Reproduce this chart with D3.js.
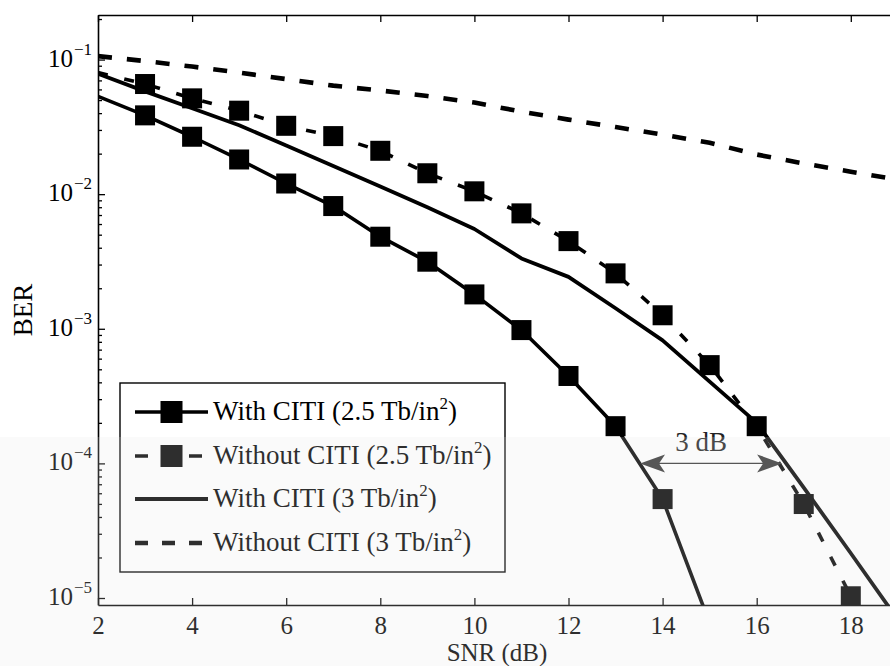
<!DOCTYPE html>
<html>
<head>
<meta charset="utf-8">
<script src="https://cdn.jsdelivr.net/npm/d3@7"></script>
<style>
  body { margin: 0; background: #fff; }
  svg { display: block; }
  svg text { font-family: "Times New Roman", "Liberation Serif", "Nimbus Roman", "DejaVu Serif", serif; }
</style>
</head>
<body>
<svg id="chart" width="890" height="666"></svg>
<script>
// BER vs SNR curves, with and without CITI, at two areal densities
const snrWithCiti25 = [2, 3, 4, 5, 6, 7, 8, 9, 10, 11, 12, 13, 14, 15];
const berWithCiti25 = [0.0533, 0.0385, 0.0267, 0.0181, 0.0120, 0.00816, 0.00483, 0.00315, 0.00180, 0.000978, 0.000446, 0.000189, 5.43e-5, 6.5e-6];

const snrWithoutCiti25 = [2, 3, 4, 5, 6, 7, 8, 9, 10, 11, 12, 13, 14, 15, 16, 17, 18];
const berWithoutCiti25 = [0.080, 0.0658, 0.0515, 0.0417, 0.0322, 0.0270, 0.0210, 0.0143, 0.0105, 0.0072, 0.00448, 0.00258, 0.00126, 0.000537, 0.000189, 4.99e-5, 1.03e-5];

const snrWithCiti3 = [2, 3, 4, 5, 6, 7, 8, 9, 10, 11, 12, 13, 14, 15, 16, 17, 18, 19];
const berWithCiti3 = [0.0785, 0.058, 0.0435, 0.0325, 0.023, 0.0162, 0.0114, 0.0080, 0.00551, 0.00333, 0.00243, 0.00142, 0.00082, 0.000405, 0.000200, 6.6e-5, 2.15e-5, 6.9e-6];

const snrWithoutCiti3 = [2, 3, 4, 5, 6, 7, 8, 9, 10, 11, 12, 13, 14, 15, 16, 17, 18, 19];
const berWithoutCiti3 = [0.106, 0.0975, 0.0887, 0.0800, 0.0716, 0.0640, 0.0589, 0.0536, 0.0479, 0.0410, 0.0358, 0.0315, 0.0277, 0.0241, 0.0197, 0.0169, 0.0147, 0.0128];

const legendLabels = ["With CITI (2.5 Tb/in", "Without CITI (2.5 Tb/in", "With CITI (3 Tb/in", "Without CITI (3 Tb/in"];
const xTicks = [2, 4, 6, 8, 10, 12, 14, 16, 18];
const yDecades = [-1, -2, -3, -4, -5];
const xLabel = "SNR (dB)";
const yLabel = "BER";

// 3 dB gap annotation at BER = 1e-4
const gapBer = 1e-4;
const gapFrom = 13.52;
const gapTo = 16.54;
const gapText = "3 dB";

const svg = d3.select("#chart");
const plot = { left: 98, top: 15, bottom: 605, right: 890 };
const serif = "'Times New Roman', 'Liberation Serif', 'Nimbus Roman', 'DejaVu Serif', serif";

const x = d3.scaleLinear().domain([2, 20]).range([plot.left, plot.left + 18 * 47.05]);
const y = d3.scaleLog().domain([Math.pow(10, -5.052), Math.pow(10, -0.669)]).range([plot.bottom, plot.top]);

svg.append("defs").append("clipPath").attr("id", "plotClip")
  .append("rect")
  .attr("x", plot.left).attr("y", plot.top)
  .attr("width", plot.right - plot.left).attr("height", plot.bottom - plot.top);

const series = [
  { snr: snrWithCiti25, ber: berWithCiti25, dash: null, width: 3.6, marker: "#000" },
  { snr: snrWithoutCiti25, ber: berWithoutCiti25, dash: "10,17", width: 3.6, marker: "#000" },
  { snr: snrWithCiti3, ber: berWithCiti3, dash: null, width: 3.8, marker: null },
  { snr: snrWithoutCiti3, ber: berWithoutCiti3, dash: "14,15", width: 4.6, marker: null }
];

const line = d3.line().x(d => x(d[0])).y(d => y(d[1]));

const g = svg.append("g").attr("clip-path", "url(#plotClip)");

series.forEach(s => {
  const pts = s.snr.map((v, i) => [v, s.ber[i]]);
  g.append("path")
    .datum(pts)
    .attr("d", line)
    .attr("fill", "none")
    .attr("stroke", "#000")
    .attr("stroke-width", s.width)
    .attr("stroke-linejoin", "round")
    .attr("stroke-dasharray", s.dash);
  if (s.marker) {
    const ms = 20;
    g.selectAll(null)
      .data(pts.filter(p => p[0] > 2))
      .enter().append("rect")
      .attr("x", p => x(p[0]) - ms / 2)
      .attr("y", p => y(p[1]) - ms / 2)
      .attr("width", ms).attr("height", ms)
      .attr("fill", s.marker);
  }
});

// Axes: inward ticks on left, bottom and top
const axisColor = "#000";
const xAxisBottom = d3.axisBottom(x).tickValues(xTicks).tickSize(-7).tickSizeOuter(0).tickPadding(11);
const gxb = svg.append("g").attr("transform", `translate(0,${plot.bottom})`).call(xAxisBottom);
gxb.attr("font-family", serif);
gxb.selectAll("text").attr("font-size", 25).style("font-family", serif).attr("fill", "#000");

const xAxisTop = d3.axisTop(x).tickValues(xTicks).tickSize(-7).tickSizeOuter(0).tickFormat("");
svg.append("g").attr("transform", `translate(0,${plot.top})`).call(xAxisTop);

const majorY = yDecades.map(e => Math.pow(10, e));
const minorY = [];
for (let e = -5; e < -0.669; e++) {
  for (let m = 2; m <= 9; m++) {
    const v = m * Math.pow(10, e);
    if (v < Math.pow(10, -0.669)) minorY.push(v);
  }
}
const yAxisMajor = d3.axisLeft(y).tickValues(majorY).tickSize(-7).tickSizeOuter(0).tickFormat("");
svg.append("g").attr("transform", `translate(${plot.left},0)`).call(yAxisMajor);
const yAxisMinor = d3.axisLeft(y).tickValues(minorY).tickSize(-4).tickSizeOuter(0).tickFormat("");
const gym = svg.append("g").attr("transform", `translate(${plot.left},0)`).call(yAxisMinor);
gym.select(".domain").remove();

svg.selectAll(".domain").attr("stroke", axisColor).attr("stroke-width", 1.6);
svg.selectAll(".tick line").attr("stroke", axisColor).attr("stroke-width", 1.3);

// Decade labels as 10^n
yDecades.forEach(e => {
  const ty = y(Math.pow(10, e));
  svg.append("text")
    .attr("x", 73).attr("y", ty + 7)
    .attr("text-anchor", "end")
    .attr("font-size", 25)
    .text("10");
  svg.append("text")
    .attr("x", 74).attr("y", ty - 5)
    .attr("font-size", 17)
    .text("\u2212" + Math.abs(e));
});

// Axis titles
svg.append("text")
  .attr("x", 497).attr("y", 661)
  .attr("text-anchor", "middle")
  .attr("font-size", 25)
  .text(xLabel);
svg.append("text")
  .attr("transform", "translate(32,310) rotate(-90)")
  .attr("text-anchor", "middle")
  .attr("font-size", 27)
  .text(yLabel);

// 3 dB gap arrow
const ay = y(gapBer);
const ax1 = x(gapFrom), ax2 = x(gapTo);
const arrowColor = "#333";
svg.append("line")
  .attr("x1", ax1 + 6).attr("x2", ax2 - 6)
  .attr("y1", ay).attr("y2", ay)
  .attr("stroke", arrowColor).attr("stroke-width", 1.3);
const head = (tipX, dir) => {
  const L = 25, W = 9, N = 6;
  return `M${tipX},${ay} L${tipX + dir * L},${ay - W} L${tipX + dir * (L - N)},${ay} L${tipX + dir * L},${ay + W} Z`;
};
svg.append("path").attr("d", head(ax1, 1)).attr("fill", arrowColor);
svg.append("path").attr("d", head(ax2, -1)).attr("fill", arrowColor);
svg.append("text")
  .attr("x", x((gapFrom + gapTo) / 2) - 10).attr("y", ay - 12)
  .attr("text-anchor", "middle")
  .attr("font-size", 27)
  .attr("fill", "#222")
  .text(gapText);

// Legend
const lg = svg.append("g");
lg.append("rect")
  .attr("x", 120).attr("y", 383)
  .attr("width", 385).attr("height", 189)
  .attr("fill", "#fff").attr("stroke", "#000").attr("stroke-width", 1.4);

const rowY = [412, 456, 499, 543];
series.forEach((s, i) => {
  const yy = rowY[i];
  lg.append("line")
    .attr("x1", 135).attr("x2", 208)
    .attr("y1", yy).attr("y2", yy)
    .attr("stroke", "#000")
    .attr("stroke-width", s.width)
    .attr("stroke-dasharray", s.dash ? "13,14" : null);
  if (s.marker) {
    lg.append("rect")
      .attr("x", 171.5 - 11).attr("y", yy - 11)
      .attr("width", 22).attr("height", 22)
      .attr("fill", s.marker);
  }
  const t = lg.append("text")
    .attr("x", 213).attr("y", yy + 8)
    .attr("font-size", 27);
  t.append("tspan").text(legendLabels[i]);
  t.append("tspan").attr("font-size", 17).attr("dy", -11).text("2");
  t.append("tspan").attr("dy", 11).text(")");
});

// The lower part of the figure is printed in a slightly lighter, greyer tone
svg.append("rect")
  .attr("x", 0).attr("y", 437)
  .attr("width", 890).attr("height", 666 - 437)
  .attr("fill", "#e6e6e6")
  .attr("opacity", 0.2)
  .attr("pointer-events", "none");
</script>
</body>
</html>
